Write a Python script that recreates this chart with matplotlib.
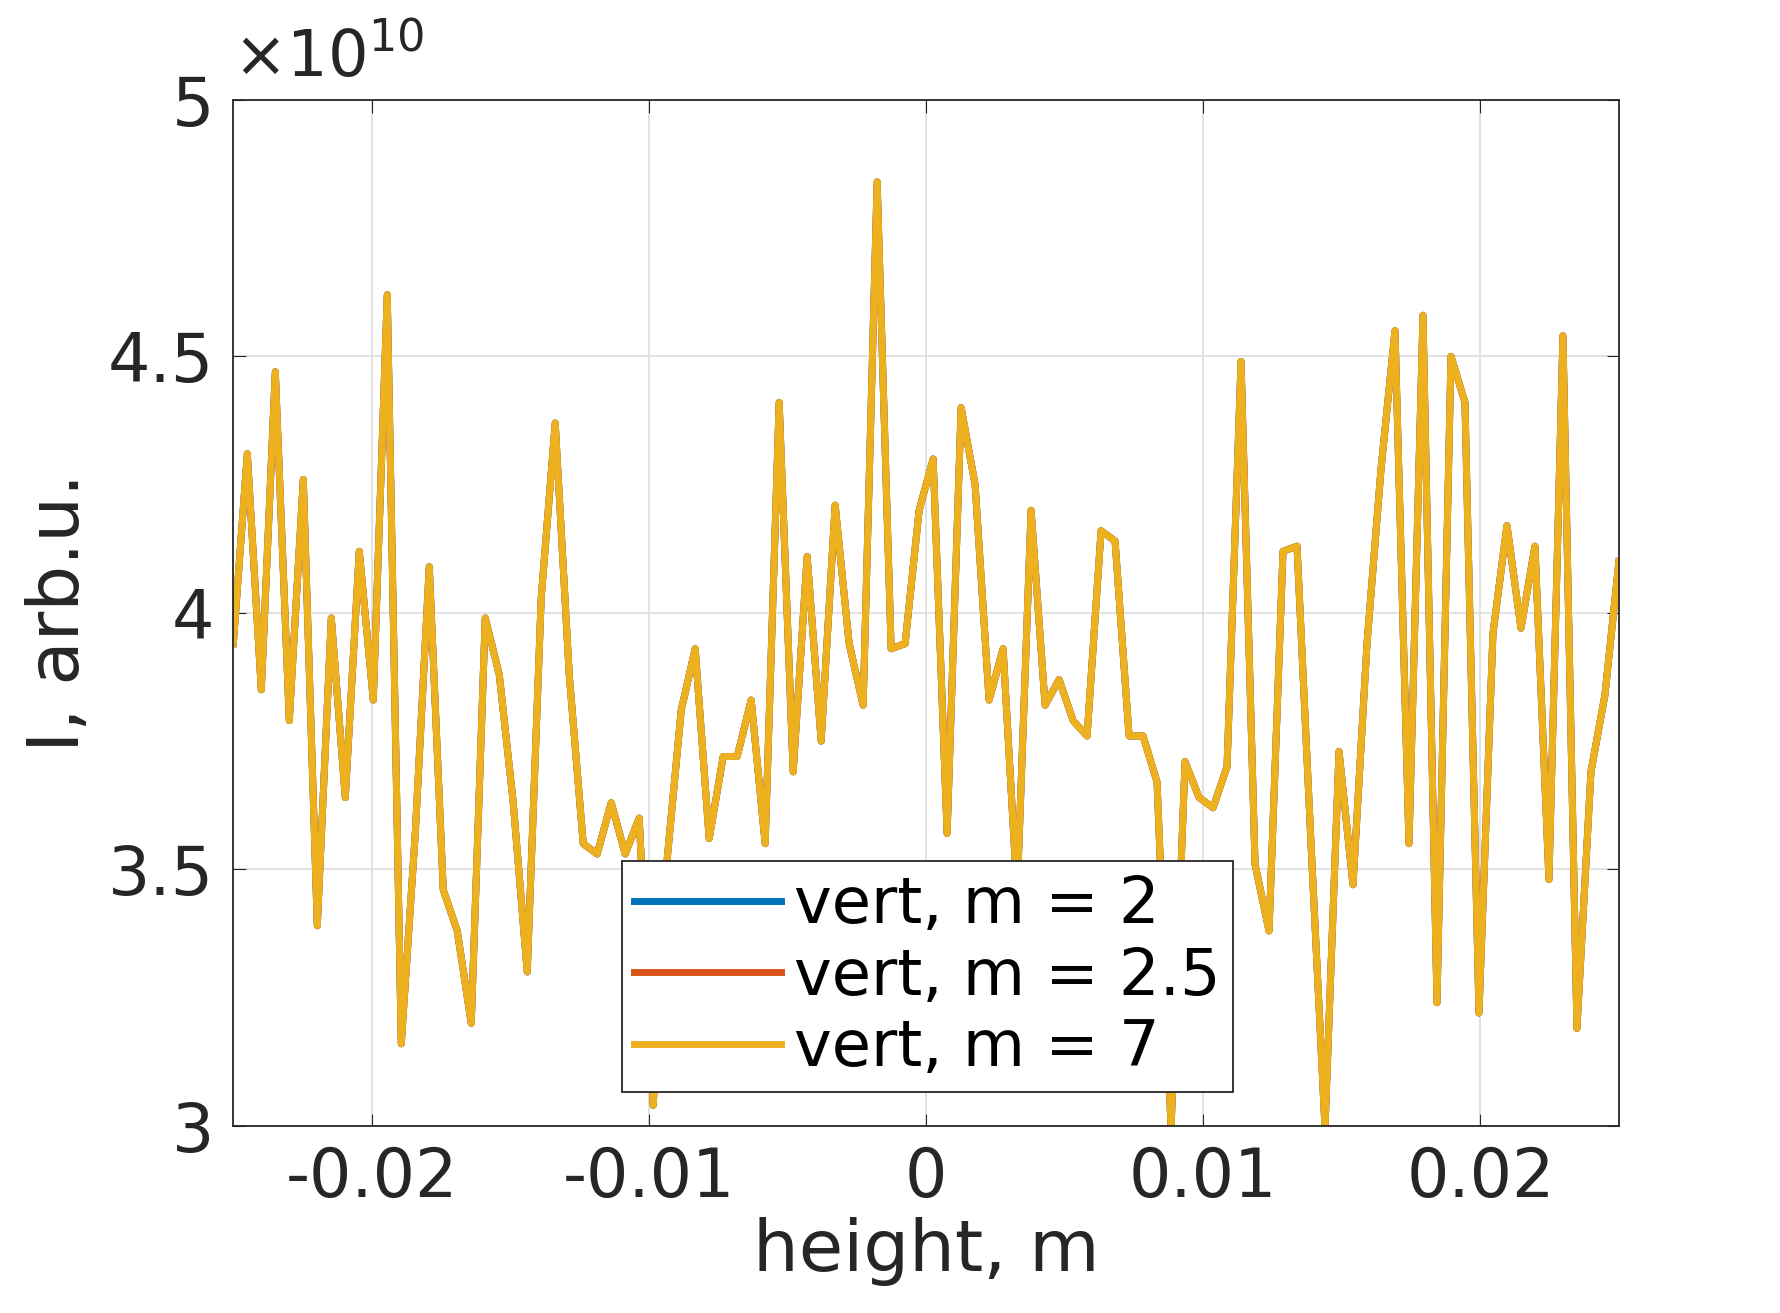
import matplotlib.pyplot as plt
import numpy as np

# height positions (m) and intensity values (x1e10)
height = np.linspace(-0.025, 0.025, 100)
intensity = [
    3.94, 4.31, 3.85, 4.47, 3.79, 4.26, 3.39, 3.99, 3.64, 4.12,
    3.83, 4.62, 3.16, 3.57, 4.09, 3.46, 3.38, 3.20, 3.99, 3.88,
    3.63, 3.30, 4.03, 4.37, 3.88, 3.55, 3.53, 3.63, 3.53, 3.60,
    3.04, 3.52, 3.81, 3.93, 3.56, 3.72, 3.72, 3.83, 3.55, 4.41,
    3.69, 4.11, 3.75, 4.21, 3.94, 3.82, 4.84, 3.93, 3.94, 4.20,
    4.30, 3.57, 4.40, 4.25, 3.83, 3.93, 3.45, 4.20, 3.82, 3.87,
    3.79, 3.76, 4.16, 4.14, 3.76, 3.76, 3.67, 2.995, 3.71, 3.64,
    3.62, 3.70, 4.49, 3.51, 3.38, 4.12, 4.13, 3.55, 2.995, 3.73,
    3.47, 3.94, 4.28, 4.55, 3.55, 4.58, 3.24, 4.50, 4.41, 3.22,
    3.96, 4.17, 3.97, 4.13, 3.48, 4.54, 3.19, 3.69, 3.84, 4.10,
]
series_labels = ['vert, m = 2', 'vert, m = 2.5', 'vert, m = 7']
colors = ['#0072BD', '#D95319', '#EDB120']

plt.rcParams['font.family'] = 'DejaVu Sans'
fig = plt.figure(figsize=(17.81, 13.13), dpi=100)
ax = fig.add_axes([0.131, 0.1425, 0.778, 0.7815])

y = np.array(intensity) * 1e10
for lab, c in zip(series_labels, colors):
    ax.plot(height, y, color=c, linewidth=5, label=lab)

ax.set_xlim(-0.025, 0.025)
ax.set_ylim(3e10, 5e10)
ax.set_xticks([-0.02, -0.01, 0, 0.01, 0.02])
ax.set_xticklabels(['-0.02', '-0.01', '0', '0.01', '0.02'])
ax.set_yticks([3e10, 3.5e10, 4e10, 4.5e10, 5e10])
ax.set_yticklabels(['3', '3.5', '4', '4.5', '5'])
ax.text(0.0, 1.01, r'$\times10^{10}$', transform=ax.transAxes, fontsize=46,
        color='#262626', ha='left', va='bottom')
ax.tick_params(labelsize=48, colors='#262626', direction='in', length=9,
               top=True, right=True, pad=14)
ax.grid(True, color='#dddddd', linewidth=1.2)
for s in ax.spines.values():
    s.set_color('#262626')
    s.set_linewidth(1.3)
ax.set_xlabel('height, m', fontsize=52, color='#262626', labelpad=4)
ax.set_ylabel('I, arb.u.', fontsize=52, color='#262626', labelpad=10)

leg = ax.legend(loc='lower center', bbox_to_anchor=(0.501, 0.033), fontsize=46,
                fancybox=False, edgecolor='#262626', framealpha=1,
                handlelength=2.3, borderpad=0.2, labelspacing=0.15,
                handletextpad=0.2, borderaxespad=0.0)
leg.get_frame().set_linewidth(1.3)

fig.savefig('out.png', dpi=100)
